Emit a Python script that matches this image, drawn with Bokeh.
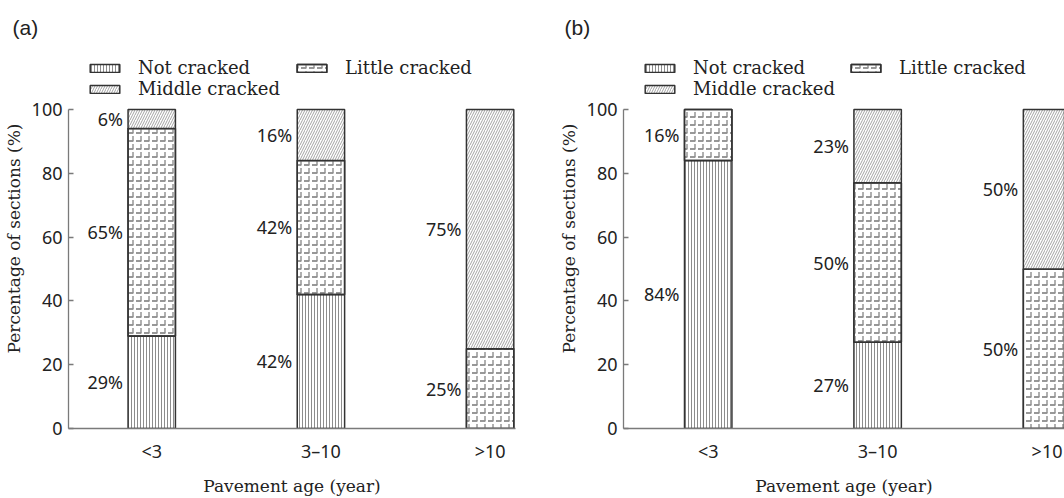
import numpy as np
from bokeh.plotting import figure
from bokeh.models import (Range1d, FixedTicker, Legend, LegendItem,
                          ColumnDataSource)
from bokeh.layouts import row
from bokeh.embed import file_html
from bokeh.resources import INLINE
from bokeh.core.properties import value

# ---------------- data ----------------
categories = ["<3", "3\u201310", ">10"]
series_names = ["Not cracked", "Little cracked", "Middle cracked"]
y_ticks = [0, 20, 40, 60, 80, 100]

a_not_cracked = [29, 42, 0]
a_little_cracked = [65, 42, 25]
a_middle_cracked = [6, 16, 75]

b_not_cracked = [84, 27, 0]
b_little_cracked = [16, 50, 50]
b_middle_cracked = [0, 23, 50]

# ---------------- styles ----------------
BAR_W = 0.28
EDGE = "#333333"
AXIS = "#7a7a7a"
TXT = "#222222"
SERIF = "DejaVu Serif"
SANS = "Noto Sans"
Y_TOP = 119.1   # room above 100 for the legend (axis itself is bounded 0-100)

STYLES = {
    "Not cracked": [dict(hatch_pattern="vertical_line", hatch_scale=3,
                         hatch_color="#808080", hatch_weight=0.9)],
    "Little cracked": [dict(hatch_pattern="horizontal_dash", hatch_scale=8,
                            hatch_color="#7e7e7e", hatch_weight=1.6),
                       dict(hatch_pattern="vertical_dash", hatch_scale=8,
                            hatch_color="#8e8e8e", hatch_weight=1.4)],
    "Middle cracked": [dict(hatch_pattern="right_diagonal_line", hatch_scale=5,
                            hatch_color="#8c8c8c", hatch_weight=0.8)],
}


def make_panel(tag, series_values, x_start, x_end, width, mbl, mbr,
               tag_off, leg1, leg2):
    p = figure(width=width, height=498, x_range=Range1d(x_start, x_end),
               y_range=Range1d(0, Y_TOP), output_backend="svg",
               toolbar_location=None, min_border_left=mbl,
               min_border_right=mbr, min_border_top=48, min_border_bottom=70)
    p.outline_line_color = None
    p.xgrid.visible = False
    p.ygrid.visible = False
    p.background_fill_color = "white"

    p.title.text = tag
    p.title.align = "left"
    p.title.vertical_align = "top"
    p.title.offset = tag_off
    p.title.standoff = 15
    p.title.text_font = "Liberation Sans"
    p.title.text_font_size = "21px"
    p.title.text_font_style = "normal"
    p.title.text_color = TXT

    idx = np.arange(len(categories))
    bottoms = np.zeros(len(categories))
    renderers = {}
    lab_x, lab_y, lab_t = [], [], []
    for name, vals in zip(series_names, series_values):
        vals = np.asarray(vals, dtype=float)
        keep = vals > 0
        src = ColumnDataSource(dict(x=idx[keep], bottom=bottoms[keep],
                                    top=(bottoms + vals)[keep]))
        rs = []
        for k, st in enumerate(STYLES[name]):
            if k == 0:
                r = p.vbar(x="x", bottom="bottom", top="top", width=BAR_W,
                           source=src, fill_color="white",
                           line_color=EDGE, line_width=1.5, **st)
            else:
                r = p.vbar(x="x", bottom="bottom", top="top", width=BAR_W,
                           source=src, fill_alpha=0, line_alpha=0, **st)
            rs.append(r)
        if len(rs) > 1:
            rs.append(p.vbar(x="x", bottom="bottom", top="top", width=BAR_W,
                             source=src, fill_alpha=0, line_color=EDGE,
                             line_width=1.5))
        renderers[name] = rs
        for i in idx[keep]:
            lab_x.append(i - BAR_W / 2)
            lab_y.append(bottoms[i] + vals[i] / 2)
            lab_t.append(f"{int(vals[i])}%")
        bottoms = bottoms + vals

    p.text(x=lab_x, y=lab_y, text=lab_t, x_offset=-5, text_align="right",
           text_baseline="middle", text_font=value(SANS),
           text_font_size="18px", text_color=TXT)

    p.xaxis.ticker = FixedTicker(ticks=list(idx))
    p.xaxis.major_label_overrides = {int(i): c for i, c in zip(idx, categories)}
    p.xaxis.axis_label = "Pavement age (year)"
    p.yaxis.ticker = FixedTicker(ticks=y_ticks)
    p.yaxis.bounds = (y_ticks[0], y_ticks[-1])
    p.yaxis.axis_label = "Percentage of sections (%)"
    for ax in (p.xaxis[0], p.yaxis[0]):
        ax.axis_line_color = AXIS
        ax.axis_line_width = 1.3
        ax.minor_tick_line_color = None
        ax.major_label_text_font = SANS
        ax.major_label_text_font_size = "18px"
        ax.major_label_text_color = TXT
        ax.axis_label_text_font = SERIF
        ax.axis_label_text_font_size = "17px"
        ax.axis_label_text_font_style = "normal"
        ax.axis_label_text_color = TXT
    p.xaxis.major_tick_line_color = None
    p.xaxis.major_label_standoff = 4
    p.xaxis.axis_label_standoff = 10
    p.yaxis.major_tick_in = 5
    p.yaxis.major_tick_out = 0
    p.yaxis.major_tick_line_color = AXIS
    p.yaxis.major_tick_line_width = 1.3
    p.yaxis.major_label_standoff = 6
    p.yaxis.axis_label_standoff = 5

    common = dict(orientation="vertical", glyph_width=37, glyph_height=10,
                  label_standoff=15, spacing=0, padding=0, margin=0,
                  border_line_color=None, background_fill_alpha=0,
                  label_text_font=SERIF, label_text_font_size="18px",
                  label_text_color=TXT, label_height=21)
    lg1 = Legend(items=[LegendItem(label=series_names[0],
                                   renderers=renderers[series_names[0]]),
                        LegendItem(label=series_names[2],
                                   renderers=renderers[series_names[2]])],
                 location=leg1, **common)
    lg2 = Legend(items=[LegendItem(label=series_names[1],
                                   renderers=renderers[series_names[1]])],
                 location=leg2, **common)
    p.add_layout(lg1)
    p.add_layout(lg2)
    return p


p1 = make_panel("(a)", [a_not_cracked, a_little_cracked, a_middle_cracked],
                -0.492, 2.15, 530, 68, 15, -56, (18, 329), (225, 350))
p2 = make_panel("(b)", [b_not_cracked, b_little_cracked, b_middle_cracked],
                -0.5, 2.103, 534, 93, 0, -59, (18, 329), (224, 350))

layout = row(p1, p2)
open("out.html", "w").write(file_html(layout, INLINE))
